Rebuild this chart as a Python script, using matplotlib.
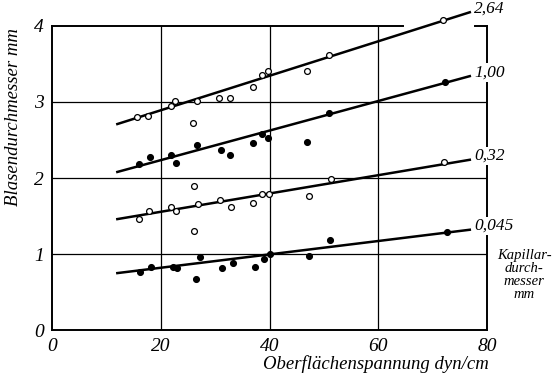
import matplotlib
matplotlib.use("Agg")
import matplotlib.pyplot as plt

# Kapillardurchmesser (mm) -> Messpunkte
labels = ["2,64", "1,00", "0,32", "0,045"]
filled = [False, True, False, True]

x_264 = [15.6, 17.7, 21.8, 22.6, 26.0, 26.6, 30.7, 32.7, 36.9, 38.6, 39.7, 46.9, 50.9, 71.9]
y_264 = [2.80, 2.82, 2.95, 3.01, 2.72, 3.01, 3.05, 3.05, 3.20, 3.35, 3.41, 3.41, 3.62, 4.08]

x_100 = [15.9, 18.0, 21.9, 22.8, 26.7, 31.1, 32.8, 37.0, 38.6, 39.7, 46.9, 50.9, 72.2]
y_100 = [2.18, 2.28, 2.30, 2.20, 2.43, 2.37, 2.30, 2.46, 2.58, 2.53, 2.48, 2.86, 3.26]

x_032 = [15.9, 17.9, 21.9, 22.8, 26.1, 26.1, 26.8, 30.9, 32.9, 37.0, 38.6, 39.9, 47.2, 51.3, 72.0]
y_032 = [1.46, 1.57, 1.62, 1.57, 1.90, 1.30, 1.66, 1.71, 1.62, 1.67, 1.79, 1.79, 1.77, 1.99, 2.21]

x_0045 = [16.2, 18.2, 22.2, 23.0, 26.4, 27.2, 31.3, 33.2, 37.3, 39.0, 40.1, 47.3, 51.1, 72.6]
y_0045 = [0.76, 0.83, 0.83, 0.82, 0.67, 0.96, 0.82, 0.88, 0.83, 0.93, 1.00, 0.97, 1.18, 1.29]

# Ausgleichsgeraden: Anfang und Ende
fit_x = [12.0, 76.8]
fit_264 = [2.71, 4.18]
fit_100 = [2.08, 3.34]
fit_032 = [1.46, 2.24]
fit_0045 = [0.75, 1.32]

series = [(x_264, y_264, fit_264), (x_100, y_100, fit_100),
          (x_032, y_032, fit_032), (x_0045, y_0045, fit_0045)]

plt.rcParams['font.family'] = ['Liberation Serif', 'DejaVu Serif']

fig = plt.figure(figsize=(5.6, 3.76), dpi=100)
ax = fig.add_axes([0.093, 0.122, 0.777, 0.809])
ax.set_xlim(0, 80)
ax.set_ylim(0, 4)

# Gitter
for gx in [20, 40, 60]:
    ax.axvline(gx, color='black', lw=0.9, zorder=1)
for gy in [1, 2, 3]:
    ax.axhline(gy, color='black', lw=0.9, zorder=1)

for (xs, ys, fy), lab, fill in zip(series, labels, filled):
    ax.plot(fit_x, fy, color='black', lw=1.8, zorder=3, clip_on=False)
    ax.plot(xs, ys, 'o', ms=4.2, mec='black', mew=0.9,
            mfc='black' if fill else 'white', zorder=4, clip_on=False)
    ax.text(fit_x[1] + 0.8, fy[1] + 0.05, lab, fontsize=12.5, style='italic',
            va='center', ha='left', zorder=6, clip_on=False,
            bbox=dict(fc='white', ec='none', pad=1.0))

ax.text(1.085, 0.18, "Kapillar-\ndurch-\nmesser\nmm", transform=ax.transAxes,
        fontsize=10.5, style='italic', ha='center', va='center', linespacing=1.0,
        zorder=6, bbox=dict(fc='white', ec='none', pad=0.5))

# Rahmen (oben unterbrochen)
for s in ['left', 'bottom', 'right', 'top']:
    ax.spines[s].set_linewidth(1.4)
    ax.spines[s].set_zorder(2)
ax.spines['top'].set_bounds(0, 64.5)
ax.plot([77.8, 80], [4, 4], color='black', lw=1.4, clip_on=False, zorder=2)

ax.set_xticks([0, 20, 40, 60, 80])
ax.set_yticks([0, 1, 2, 3, 4])
ax.tick_params(length=0, labelsize=14, pad=6)
for t in ax.get_xticklabels() + ax.get_yticklabels():
    t.set_style('italic')

ax.set_xlabel("Oberflächenspannung dyn/cm", fontsize=13.5, style='italic')
ax.xaxis.set_label_coords(0.745, -0.082)
ax.set_ylabel("Blasendurchmesser mm", fontsize=13.5, style='italic')
ax.yaxis.set_label_coords(-0.07, 0.70)

fig.savefig("out.png", dpi=100, facecolor='white')
